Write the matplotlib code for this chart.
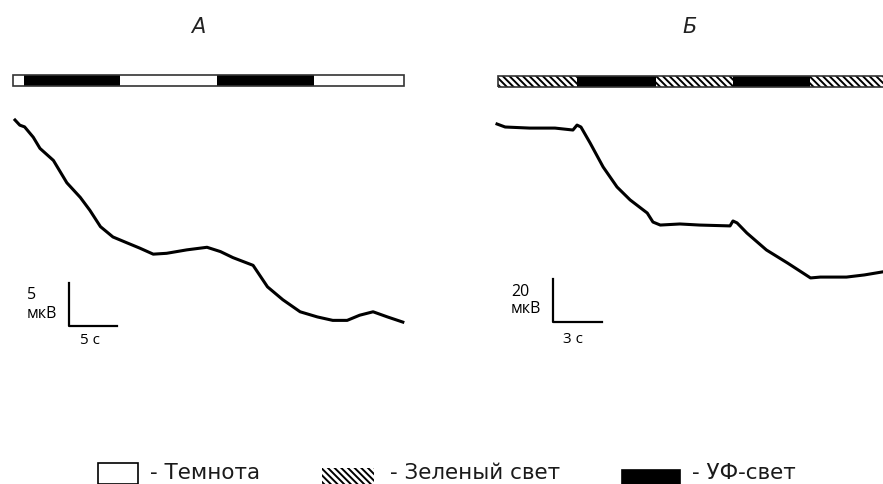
import matplotlib
matplotlib.use("Agg")
import matplotlib.pyplot as plt
from matplotlib.patches import Rectangle

# ---------------- data ----------------
# Panel A: time (s), potential (uV, relative to start)
trace_a_t = [0, 0.5, 1.0, 1.9, 2.6, 4.0, 5.4, 6.8, 7.8, 8.9, 10.2, 11.7, 13.0, 14.4,
             15.8, 17.9, 20.0, 21.4, 22.7, 24.8, 26.3, 27.9, 29.7, 31.5, 33.1, 34.6,
             35.9, 37.3, 38.8, 40.4]
trace_a_v = [0, -0.6, -0.8, -2.0, -3.3, -4.7, -7.3, -9.0, -10.5, -12.4, -13.6, -14.3,
             -14.9, -15.6, -15.5, -15.1, -14.8, -15.3, -16.0, -16.9, -19.4, -20.9,
             -22.3, -22.9, -23.3, -23.3, -22.7, -22.3, -22.9, -23.5]
# stimulus sequence A: (start s, end s, kind)
stim_a_start = [-0.2, 0.9, 10.9, 21.0, 31.1]
stim_a_end = [0.9, 10.9, 21.0, 31.1, 40.5]
stim_a_kind = ["dark", "uv", "dark", "uv", "dark"]

# Panel B
trace_b_t = [0, 0.5, 2.0, 3.55, 4.65, 4.9, 5.14, 5.7, 6.5, 7.35, 8.15, 9.2, 9.55, 10.0,
             11.2, 12.4, 14.27, 14.45, 14.7, 15.3, 16.5, 17.8, 19.2, 19.8, 21.4, 22.5, 23.6]
trace_b_v = [0, -1.4, -1.9, -1.9, -2.8, -0.5, -1.4, -8.8, -20.0, -29.3, -35.3, -41.4,
             -45.6, -47.0, -46.5, -47.0, -47.4, -45.1, -46.0, -50.7, -58.6, -64.7,
             -71.6, -71.2, -71.2, -70.2, -68.8]
stim_b_start = [0.06, 4.9, 9.74, 14.45, 19.17]
stim_b_end = [4.9, 9.74, 14.45, 19.17, 23.7]
stim_b_kind = ["green", "uv", "green", "uv", "green"]

scale_a = (5, 5)      # seconds, uV
scale_b = (3, 20)
legend_labels = ["- Темнота", "- Зеленый свет", "- УФ-свет"]
panel_titles = ["А", "Б"]

# ---------------- layout ----------------
W, H = 883, 484
fig = plt.figure(figsize=(W / 100, H / 100), dpi=100)
FONT = ["DejaVu Sans"]
SFONT = ["Open Sans", "DejaVu Sans"]
HATCH = "\\\\\\\\\\"


def make_axes(x0_px, y0_px, px_per_s, px_per_uv):
    ax = fig.add_axes([0, 0, 1, 1])
    ax.patch.set_alpha(0)
    ax.set_xlim(-x0_px / px_per_s, (W - x0_px) / px_per_s)
    ax.set_ylim((y0_px - H) / px_per_uv, y0_px / px_per_uv)
    ax.axis("off")
    return ax


def yfrac(py):
    return 1 - py / H


def stim_bar(ax, starts, ends, kinds, ytop, ybot):
    tr = ax.get_xaxis_transform()
    for s, e, k in zip(starts, ends, kinds):
        if k == "uv":
            fc, hatch = "black", None
        elif k == "green":
            fc, hatch = "white", HATCH
        else:
            fc, hatch = "white", None
        r = Rectangle((s, yfrac(ybot)), e - s, yfrac(ytop) - yfrac(ybot), transform=tr,
                      facecolor=fc, edgecolor="black", hatch=hatch, lw=0.0)
        ax.add_patch(r)
    r = Rectangle((starts[0], yfrac(ybot)), ends[-1] - starts[0], yfrac(ytop) - yfrac(ybot),
                  transform=tr, facecolor="none", edgecolor="#333333", lw=1.2)
    ax.add_patch(r)


plt.rcParams["hatch.linewidth"] = 1.4

# Panel A
axA = make_axes(15, 120, 9.6, 8.6)
axA.plot(trace_a_t, trace_a_v, color="black", lw=2.2)
stim_bar(axA, stim_a_start, stim_a_end, stim_a_kind, 75, 86.5)
cx, cy = 5.6, -24.0
axA.plot([cx, cx, cx + scale_a[0]], [cy + scale_a[1], cy, cy], color="black", lw=1.6)
axA.text(cx - 4.35, cy + 3.65, f"{scale_a[1]}", fontsize=11.5, family=SFONT, ha="left", va="center")
axA.text(cx - 4.35, cy + 1.5, "мкВ", fontsize=11.5, family=SFONT, ha="left", va="center")
axA.text(cx + 2.2, cy - 1.65, f"{scale_a[0]} с", fontsize=11, family=SFONT, ha="center", va="center")

# Panel B
axB = make_axes(497, 124, 16.33, 2.15)
axB.plot(trace_b_t, trace_b_v, color="black", lw=2.2)
stim_bar(axB, stim_b_start, stim_b_end, stim_b_kind, 76, 87)
cx, cy = 3.43, -92.1
axB.plot([cx, cx, cx + scale_b[0]], [cy + scale_b[1], cy, cy], color="black", lw=1.6)
axB.text(cx - 2.57, cy + 14.0, f"{scale_b[1]}", fontsize=11.5, family=SFONT, ha="left", va="center")
axB.text(cx - 2.57, cy + 6.0, "мкВ", fontsize=11.5, family=SFONT, ha="left", va="center")
axB.text(cx + 1.25, cy - 8.0, f"{scale_b[0]} с", fontsize=11, family=SFONT, ha="center", va="center")

# Titles
fig.text(198 / W, yfrac(27), panel_titles[0], fontsize=15, style="italic",
         family=["DejaVu Sans"], ha="center", va="center", color="#222222")
fig.text(690 / W, yfrac(27), panel_titles[1], fontsize=15, style="italic",
         family=["DejaVu Sans"], ha="center", va="center", color="#222222")

# Legend
box_specs = [(98, 138, 463, "white", None), (322, 374, 468, "white", HATCH),
             (622, 680, 470, "black", None)]
text_x = [150, 390, 692]
for (x0, x1, yt, fc, hatch), tx, lab in zip(box_specs, text_x, legend_labels):
    r = Rectangle((x0 / W, 0), (x1 - x0) / W, yfrac(yt), transform=fig.transFigure,
                  facecolor=fc, edgecolor="black",
                  hatch=hatch, lw=1.2 if hatch is None else 0.0)
    fig.add_artist(r)
    fig.text(tx / W, yfrac(479), lab, fontsize=15.5, family=FONT, ha="left", va="baseline",
             color="#1a1a1a")

fig.savefig("out.png", dpi=100)
